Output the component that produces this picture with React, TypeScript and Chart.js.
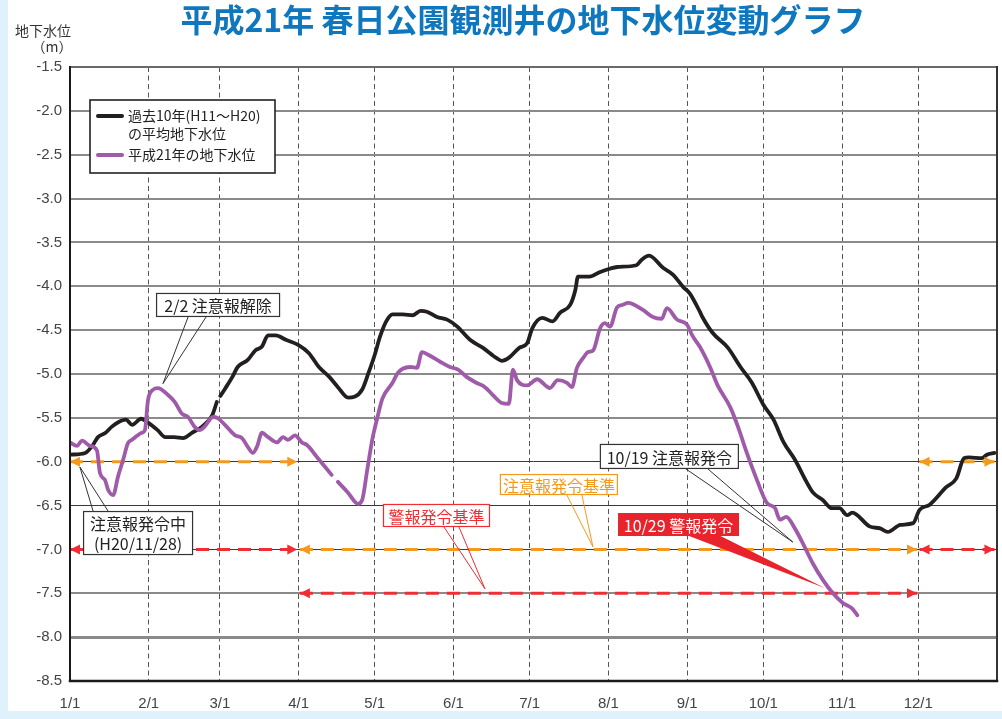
import { useEffect, useRef } from 'react';
import { Chart, registerables } from 'chart.js';

Chart.register(...registerables);

// ---------- data ----------
const titleText = '平成21年 春日公園観測井の地下水位変動グラフ';
const monthStartDays = [0, 31, 59, 90, 120, 151, 181, 212, 243, 273, 304, 334];
const monthLabels = ['1/1', '2/1', '3/1', '4/1', '5/1', '6/1', '7/1', '8/1', '9/1', '10/1', '11/1', '12/1'];
const yMin = -8.5;
const yMax = -1.5;
const yStep = 0.5;

const seriesNames = ['過去10年(H11～H20)', 'の平均地下水位', '平成21年の地下水位'];

// [day of year, level (m)]  — 10-year average (H11–H20)
const avgPoints: [number, number | null][] = [
  [0, -5.92], [6, -5.9], [9, -5.81], [11, -5.72], [14, -5.67], [16.5, -5.6], [19, -5.55], [22, -5.52],
  [24.5, -5.58], [28, -5.51], [31, -5.56], [34.5, -5.64], [37.5, -5.72], [41, -5.72], [44.5, -5.73],
  [48, -5.67], [52, -5.6], [56, -5.47], [57.8, -5.32], [58.4, null], [59.2, -5.25], [61, -5.17], [64, -5.03],
  [66, -4.92], [70, -4.84],
  [73, -4.73], [75.5, -4.69], [78, -4.56], [81, -4.56], [85, -4.61], [90, -4.67], [94, -4.76], [98, -4.92],
  [102, -5.03], [105.5, -5.15], [109.5, -5.27], [112, -5.26], [115, -5.18], [117.5, -4.99], [120, -4.78],
  [122, -4.58], [124.5, -4.4], [127, -4.32], [131, -4.32], [135, -4.33], [138, -4.28], [140.5, -4.29],
  [144.5, -4.35], [148.5, -4.38], [152.5, -4.46], [157.5, -4.61], [162.5, -4.7], [168, -4.82], [170, -4.85],
  [173, -4.81], [177, -4.7], [180, -4.65], [182, -4.48], [186, -4.36], [190, -4.4], [193, -4.3], [197, -4.21],
  [199, -4.04], [200, -3.89], [204.5, -3.89], [208.5, -3.84], [212.5, -3.8], [215.5, -3.78], [223, -3.76],
  [225, -3.7], [228, -3.65], [233.5, -3.79], [237.5, -3.87], [241.5, -4.01], [244, -4.08], [248, -4.29],
  [249, -4.35], [253, -4.53], [259, -4.7], [264, -4.92], [268.5, -5.1], [273, -5.35], [277, -5.52],
  [281, -5.78], [285.5, -5.98], [290, -6.23], [292.5, -6.35], [296.5, -6.44], [300, -6.53], [303, -6.53],
  [306, -6.61], [308, -6.58], [315, -6.74], [319, -6.76], [322, -6.8], [327, -6.72], [332, -6.7],
  [334.5, -6.55], [338.5, -6.49], [345, -6.29], [349, -6.19], [352, -5.96], [354, -5.95], [359, -5.96],
  [361, -5.92], [364, -5.9],
];

// [day of year, level (m)]  — 2009 (H21)
const h21Points: [number, number | null][] = [
  [0, -5.78], [2.8, -5.82], [4.7, -5.76], [7.9, -5.82], [10.6, -5.87], [11.8, -6.13], [13.8, -6.21],
  [15, -6.32], [17, -6.38], [18.9, -6.17], [20.9, -5.98], [22.8, -5.79], [24.4, -5.75], [28.3, -5.67],
  [29.5, -5.64], [30.7, -5.3], [32.7, -5.18], [34.6, -5.16], [38.6, -5.24], [41.3, -5.32], [44, -5.45],
  [46.5, -5.49], [49, -5.6], [51, -5.64], [53, -5.6], [56.3, -5.49], [58, -5.5], [61, -5.58], [65, -5.7],
  [67.7, -5.73], [70, -5.83], [72, -5.9], [73.6, -5.83], [75.6, -5.67], [78, -5.72], [81.5, -5.78],
  [83.9, -5.72], [85.8, -5.75], [88.6, -5.7], [91.3, -5.78], [93.3, -5.81], [97.6, -5.96], [103, -6.15],
  [104, null], [105.5, -6.23], [109.4, -6.35], [113.4, -6.48], [115, -6.44], [117, -6.1], [119, -5.75],
  [121, -5.5], [123, -5.28], [127, -5.1], [129, -4.99], [131, -4.94], [134, -4.92], [136.6, -4.93],
  [138.6, -4.75], [141, -4.78], [145.7, -4.86], [149.6, -4.92], [152.8, -4.95], [156, -5.03], [160, -5.1],
  [163.4, -5.15], [166.5, -5.24], [170, -5.33], [172.8, -5.34], [174.4, -4.95], [176, -5.07], [180, -5.13],
  [183.9, -5.06], [189, -5.16], [192, -5.07], [195.7, -5.1], [197.6, -5.15], [199.6, -4.93], [202, -4.82],
  [204, -4.75], [206, -4.73], [208.7, -4.48], [210.6, -4.42], [212.6, -4.46], [215.4, -4.24], [217.7, -4.21],
  [219.7, -4.19], [225.6, -4.27], [229.5, -4.35], [233, -4.37], [235, -4.25], [239, -4.38], [243, -4.44],
  [245, -4.56], [248, -4.69], [252, -4.92], [255, -5.13], [260, -5.38], [263, -5.6], [266.5, -5.9],
  [270.5, -6.21], [274.4, -6.47], [277.6, -6.53], [279.5, -6.66], [282, -6.63], [285.4, -6.76],
  [289.4, -6.98], [292.5, -7.16], [296.5, -7.35], [300.4, -7.5], [304.3, -7.61], [307.8, -7.67], [310, -7.75],
];

// threshold segments: [level, fromDay, toDay, kind]
const refSegments: [number, number, number, string][] = [
  [-6.0, 0, 89.5, 'caution'],
  [-7.0, 0, 89.5, 'warning'],
  [-7.0, 90.5, 333.5, 'caution'],
  [-7.5, 90.5, 333.5, 'warning'],
  [-6.0, 334.5, 364, 'caution'],
  [-7.0, 334.5, 364, 'warning'],
];

// callout texts and anchors (data coordinates)
const callouts = [
  { lines: ['2/2 注意報解除'], boxDay: 58.3, boxLevel: -4.213, tipDay: 36.6, tipLevel: -5.11, style: 'plain', edge: 'bottom', w: 124, h: 24, base: [-30, -12] },
  { lines: ['注意報発令中', '(H20/11/28)'], boxDay: 26.8, boxLevel: -6.813, tipDay: 3.9, tipLevel: -6.06, style: 'plain', edge: 'top', w: 110, h: 44, base: [-45, -30] },
  { lines: ['警報発令基準'], boxDay: 144.3, boxLevel: -6.613, tipDay: 163.4, tipLevel: -7.45, style: 'red', edge: 'bottom', w: 107, h: 23, base: [7.5, 22.5] },
  { lines: ['注意報発令基準'], boxDay: 192.5, boxLevel: -6.26, tipDay: 205.9, tipLevel: -6.97, style: 'orange', edge: 'bottom', w: 118, h: 21, base: [8, 23] },
  { lines: ['10/19 注意報発令'], boxDay: 236, boxLevel: -5.94, tipDay: 284.6, tipLevel: -6.916, style: 'plain', edge: 'bottom', w: 139, h: 25, base: [16.5, 38.5] },
  { lines: ['10/29 警報発令'], boxDay: 239.6, boxLevel: -6.716, tipDay: 297.2, tipLevel: -7.44, style: 'alert', edge: 'bottom', w: 121, h: 23, base: [8, 40] },
];

// ---------- styles ----------
const COLOR_AVG = '#231f20';
const COLOR_H21 = '#a05aaa';
const COLOR_CAUTION = '#f39a1e';
const COLOR_WARNING = '#ef2d32';
const COLOR_TITLE = '#0f77bd';
const CJK = '"Noto Sans CJK JP", "Noto Sans", sans-serif';
const LATIN = '"Liberation Sans", Arial, sans-serif';

const near = (a: number, b: number) => Math.abs(a - b) < 1e-6;

function drawArrow(ctx: CanvasRenderingContext2D, x: number, y: number, dir: number, color: string) {
  const len = 10;
  const half = 5;
  ctx.save();
  ctx.fillStyle = color;
  ctx.beginPath();
  ctx.moveTo(x, y);
  ctx.lineTo(x - dir * len, y - half);
  ctx.lineTo(x - dir * len, y + half);
  ctx.closePath();
  ctx.fill();
  ctx.restore();
}

const decorPlugin = {
  id: 'decor',
  beforeDraw(chart: any) {
    const ctx = chart.ctx as CanvasRenderingContext2D;
    const W = chart.width;
    const H = chart.height;
    ctx.save();
    ctx.fillStyle = '#ffffff';
    ctx.fillRect(0, 0, W, H);
    ctx.fillStyle = '#dff1fb';
    ctx.fillRect(0, 0, 8, H);
    ctx.fillRect(0, H - 8, W, 8);
    ctx.restore();
  },
  afterDatasetsDraw(chart: any) {
    const ctx = chart.ctx as CanvasRenderingContext2D;
    const xs = chart.scales.x;
    const ys = chart.scales.y;
    const area = chart.chartArea;

    // arrowheads on threshold segments
    chart.data.datasets.forEach((ds: any, i: number) => {
      if (!ds.isRef) return;
      const meta = chart.getDatasetMeta(i);
      const p0 = meta.data[0];
      const p1 = meta.data[1];
      drawArrow(ctx, p0.x, p0.y, -1, ds.borderColor);
      drawArrow(ctx, p1.x, p1.y, 1, ds.borderColor);
    });

    // frame
    ctx.save();
    ctx.lineCap = 'square';
    ctx.strokeStyle = '#6a6a6a';
    ctx.lineWidth = 2;
    ctx.beginPath();
    ctx.moveTo(area.left, area.top);
    ctx.lineTo(area.right, area.top);
    ctx.stroke();
    ctx.strokeStyle = '#333333';
    ctx.beginPath();
    ctx.moveTo(area.right, area.top);
    ctx.lineTo(area.right, area.bottom);
    ctx.stroke();
    ctx.strokeStyle = '#1a1a1a';
    ctx.beginPath();
    ctx.moveTo(area.left, area.top);
    ctx.lineTo(area.left, area.bottom);
    ctx.stroke();
    ctx.lineWidth = 2.5;
    ctx.beginPath();
    ctx.moveTo(area.left, area.bottom);
    ctx.lineTo(area.right, area.bottom);
    ctx.stroke();
    ctx.restore();

    // callouts
    callouts.forEach((c) => {
      const cx = xs.getPixelForValue(c.boxDay);
      const cy = ys.getPixelForValue(c.boxLevel);
      const tx = xs.getPixelForValue(c.tipDay);
      const ty = ys.getPixelForValue(c.tipLevel);
      const left = cx - c.w / 2;
      const top = cy - c.h / 2;
      const by = c.edge === 'bottom' ? top + c.h : top;
      const b1x = cx + c.base[0];
      const b2x = cx + c.base[1];
      let stroke = '#333333';
      let fill = '#ffffff';
      let text = '#222222';
      if (c.style === 'red') { stroke = COLOR_WARNING; text = COLOR_WARNING; }
      if (c.style === 'orange') { stroke = COLOR_CAUTION; text = COLOR_CAUTION; }
      if (c.style === 'alert') { stroke = ''; fill = '#e9232b'; text = '#ffffff'; }
      ctx.save();
      if (c.style === 'alert') {
        ctx.fillStyle = fill;
        ctx.beginPath();
        ctx.moveTo(b1x, by - 1);
        ctx.lineTo(b2x, by - 1);
        ctx.lineTo(tx, ty);
        ctx.closePath();
        ctx.fill();
      } else {
        ctx.strokeStyle = stroke;
        ctx.lineWidth = 1;
        ctx.beginPath();
        ctx.moveTo(b1x, by);
        ctx.lineTo(tx, ty);
        ctx.lineTo(b2x, by);
        ctx.stroke();
      }
      ctx.fillStyle = fill;
      ctx.fillRect(left, top, c.w, c.h);
      if (stroke) {
        ctx.strokeStyle = stroke;
        ctx.lineWidth = 1.2;
        ctx.strokeRect(left + 0.5, top + 0.5, c.w - 1, c.h - 1);
      }
      ctx.fillStyle = text;
      ctx.font = `16px ${CJK}`;
      ctx.textAlign = 'center';
      ctx.textBaseline = 'middle';
      const lh = 20;
      const startY = cy - ((c.lines.length - 1) * lh) / 2 + 1;
      c.lines.forEach((ln, k) => ctx.fillText(ln, cx, startY + k * lh));
      ctx.restore();
    });

    // legend box
    const lx = area.left + 20;
    const ly = area.top + 33;
    ctx.save();
    ctx.fillStyle = '#ffffff';
    ctx.fillRect(lx, ly, 185, 73);
    ctx.strokeStyle = '#222222';
    ctx.lineWidth = 1.6;
    ctx.strokeRect(lx, ly, 185, 73);
    ctx.lineWidth = 4;
    ctx.lineCap = 'round';
    ctx.strokeStyle = COLOR_AVG;
    ctx.beginPath();
    ctx.moveTo(lx + 8, ly + 16);
    ctx.lineTo(lx + 32, ly + 16);
    ctx.stroke();
    ctx.strokeStyle = COLOR_H21;
    ctx.beginPath();
    ctx.moveTo(lx + 8, ly + 55);
    ctx.lineTo(lx + 32, ly + 55);
    ctx.stroke();
    ctx.fillStyle = '#222222';
    ctx.font = `14px ${CJK}`;
    ctx.textAlign = 'left';
    ctx.textBaseline = 'middle';
    ctx.fillText(seriesNames[0], lx + 38, ly + 16);
    ctx.fillText(seriesNames[1], lx + 38, ly + 34);
    ctx.fillText(seriesNames[2], lx + 38, ly + 55);
    ctx.restore();
  },
  afterDraw(chart: any) {
    const ctx = chart.ctx as CanvasRenderingContext2D;
    ctx.save();
    ctx.fillStyle = COLOR_TITLE;
    ctx.font = `bold 32px ${CJK}`;
    ctx.textAlign = 'center';
    ctx.textBaseline = 'middle';
    ctx.fillText(titleText, 523, 20);
    ctx.fillStyle = '#333333';
    ctx.font = `14px ${CJK}`;
    ctx.fillText('地下水位', 43, 31);
    ctx.fillText('（m）', 52, 47);
    ctx.restore();
  },
};

export default function App() {
  const ref = useRef<HTMLCanvasElement | null>(null);

  useEffect(() => {
    const canvas = ref.current;
    if (!canvas) return;

    const refDatasets = refSegments.map(([level, from, to, kind]) => ({
      isRef: true,
      data: [{ x: from, y: level }, { x: to, y: level }],
      borderColor: kind === 'caution' ? COLOR_CAUTION : COLOR_WARNING,
      borderWidth: 3,
      borderDash: [13, 8],
      pointRadius: 0,
      order: 2,
    }));

    const chart = new Chart(canvas, {
      type: 'line',
      data: {
        datasets: [
          {
            label: '平成21年の地下水位',
            data: h21Points.map(([x, y]) => ({ x, y })),
            borderColor: COLOR_H21,
            borderWidth: 3.8,
            pointRadius: 0,
            spanGaps: false,
            cubicInterpolationMode: 'monotone',
            borderJoinStyle: 'round',
            borderCapStyle: 'round',
            order: 0,
          },
          {
            label: '過去10年(H11～H20)の平均地下水位',
            data: avgPoints.map(([x, y]) => ({ x, y })),
            borderColor: COLOR_AVG,
            borderWidth: 3.8,
            pointRadius: 0,
            spanGaps: false,
            cubicInterpolationMode: 'monotone',
            borderJoinStyle: 'round',
            borderCapStyle: 'round',
            order: 1,
          },
          ...refDatasets,
        ] as any,
      },
      options: {
        responsive: false,
        animation: false,
        events: [],
        layout: { padding: { left: 0, right: 5, top: 67, bottom: 0 } },
        plugins: {
          legend: { display: false },
          tooltip: { enabled: false },
          title: { display: false },
        },
        scales: {
          x: {
            type: 'linear',
            min: 0,
            max: 365,
            afterFit: (s: any) => { s.height = 38; },
            afterBuildTicks: (s: any) => { s.ticks = monthStartDays.map((v) => ({ value: v })); },
            ticks: {
              autoSkip: false,
              maxRotation: 0,
              padding: 14,
              color: '#444444',
              font: { family: LATIN, size: 15 },
              callback: (v: any) => {
                const i = monthStartDays.indexOf(Number(v));
                return i >= 0 ? monthLabels[i] : '';
              },
            },
            grid: {
              drawTicks: false,
              color: (c: any) => (c.tick && c.tick.value === 0 ? 'rgba(0,0,0,0)' : '#555555'),
              lineWidth: 1,
            },
            border: { display: false, dash: [5, 3.5] },
          },
          y: {
            type: 'linear',
            min: yMin,
            max: yMax,
            afterFit: (s: any) => { s.width = 70; },
            ticks: {
              stepSize: yStep,
              padding: 8,
              color: '#444444',
              font: { family: LATIN, size: 15 },
              callback: (v: any) => Number(v).toFixed(1),
            },
            grid: {
              drawTicks: false,
              color: (c: any) => {
                const v = c.tick ? c.tick.value : 0;
                if (near(v, yMax) || near(v, yMin)) return 'rgba(0,0,0,0)';
                if (near(v, -6) || near(v, -6.5) || near(v, -7)) return '#3a3a3a';
                return '#8a8a8a';
              },
              lineWidth: (c: any) => {
                const v = c.tick ? c.tick.value : 0;
                if (near(v, -8)) return 3;
                if (near(v, -6) || near(v, -6.5) || near(v, -7)) return 1;
                return 2;
              },
            },
            border: { display: false },
          },
        },
      } as any,
      plugins: [decorPlugin as any],
    });

    return () => chart.destroy();
  }, []);

  return (
    <div style={{ position: 'fixed', left: 0, top: 0, width: 1002, height: 719, background: '#ffffff' }}>
      <canvas ref={ref} width={1002} height={719} style={{ display: 'block' }} />
    </div>
  );
}
